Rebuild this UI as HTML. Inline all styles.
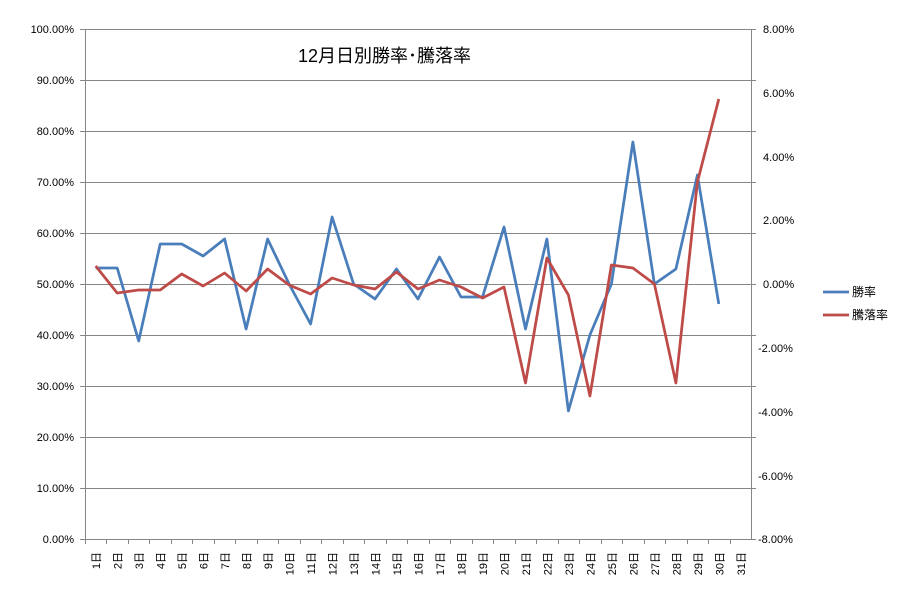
<!DOCTYPE html>
<html><head><meta charset="utf-8"><style>
html,body{margin:0;padding:0;background:#fff;}
svg{display:block;font-family:"Liberation Sans","Noto Sans CJK JP",sans-serif;}
</style></head><body>
<svg width="913" height="606" viewBox="0 0 913 606" xmlns="http://www.w3.org/2000/svg">
<rect width="913" height="606" fill="#fff"/>
<g stroke="#868686" stroke-width="1" shape-rendering="crispEdges">
<line x1="80" y1="29.5" x2="756" y2="29.5"/>
<line x1="80" y1="80.5" x2="756" y2="80.5"/>
<line x1="80" y1="131.5" x2="756" y2="131.5"/>
<line x1="80" y1="182.5" x2="756" y2="182.5"/>
<line x1="80" y1="233.5" x2="756" y2="233.5"/>
<line x1="80" y1="284.5" x2="756" y2="284.5"/>
<line x1="80" y1="335.5" x2="756" y2="335.5"/>
<line x1="80" y1="386.5" x2="756" y2="386.5"/>
<line x1="80" y1="437.5" x2="756" y2="437.5"/>
<line x1="80" y1="488.5" x2="756" y2="488.5"/>
<line x1="80" y1="539.5" x2="756" y2="539.5"/>
<line x1="85.5" y1="29" x2="85.5" y2="544"/>
<line x1="751.5" y1="29" x2="751.5" y2="539"/>
<line x1="106.5" y1="539" x2="106.5" y2="544"/><line x1="128.5" y1="539" x2="128.5" y2="544"/><line x1="149.5" y1="539" x2="149.5" y2="544"/><line x1="171.5" y1="539" x2="171.5" y2="544"/><line x1="192.5" y1="539" x2="192.5" y2="544"/><line x1="214.5" y1="539" x2="214.5" y2="544"/><line x1="235.5" y1="539" x2="235.5" y2="544"/><line x1="257.5" y1="539" x2="257.5" y2="544"/><line x1="278.5" y1="539" x2="278.5" y2="544"/><line x1="300.5" y1="539" x2="300.5" y2="544"/><line x1="321.5" y1="539" x2="321.5" y2="544"/><line x1="343.5" y1="539" x2="343.5" y2="544"/><line x1="364.5" y1="539" x2="364.5" y2="544"/><line x1="386.5" y1="539" x2="386.5" y2="544"/><line x1="407.5" y1="539" x2="407.5" y2="544"/><line x1="429.5" y1="539" x2="429.5" y2="544"/><line x1="450.5" y1="539" x2="450.5" y2="544"/><line x1="472.5" y1="539" x2="472.5" y2="544"/><line x1="493.5" y1="539" x2="493.5" y2="544"/><line x1="515.5" y1="539" x2="515.5" y2="544"/><line x1="536.5" y1="539" x2="536.5" y2="544"/><line x1="558.5" y1="539" x2="558.5" y2="544"/><line x1="579.5" y1="539" x2="579.5" y2="544"/><line x1="601.5" y1="539" x2="601.5" y2="544"/><line x1="622.5" y1="539" x2="622.5" y2="544"/><line x1="644.5" y1="539" x2="644.5" y2="544"/><line x1="665.5" y1="539" x2="665.5" y2="544"/><line x1="687.5" y1="539" x2="687.5" y2="544"/><line x1="708.5" y1="539" x2="708.5" y2="544"/><line x1="730.5" y1="539" x2="730.5" y2="544"/>
</g>
<g font-size="11" fill="#000" text-anchor="end">
<text x="74" y="33">100.00%</text><text x="74" y="84">90.00%</text><text x="74" y="135">80.00%</text><text x="74" y="186">70.00%</text><text x="74" y="237">60.00%</text><text x="74" y="288">50.00%</text><text x="74" y="339">40.00%</text><text x="74" y="390">30.00%</text><text x="74" y="441">20.00%</text><text x="74" y="492">10.00%</text><text x="74" y="543">0.00%</text>
</g>
<g font-size="11" fill="#000">
<text x="763" y="33">8.00%</text><text x="763" y="97">6.00%</text><text x="763" y="161">4.00%</text><text x="763" y="224">2.00%</text><text x="763" y="288">0.00%</text><text x="758" y="352">-2.00%</text><text x="758" y="416">-4.00%</text><text x="758" y="480">-6.00%</text><text x="758" y="543">-8.00%</text>
</g>
<g font-size="11" fill="#000" text-anchor="end">
<text transform="translate(100,552) rotate(-90)">1日</text><text transform="translate(121.5,552) rotate(-90)">2日</text><text transform="translate(143,552) rotate(-90)">3日</text><text transform="translate(164.5,552) rotate(-90)">4日</text><text transform="translate(186,552) rotate(-90)">5日</text><text transform="translate(207.5,552) rotate(-90)">6日</text><text transform="translate(229,552) rotate(-90)">7日</text><text transform="translate(250.5,552) rotate(-90)">8日</text><text transform="translate(272,552) rotate(-90)">9日</text><text transform="translate(293.5,552) rotate(-90)">10日</text><text transform="translate(315,552) rotate(-90)">11日</text><text transform="translate(336.5,552) rotate(-90)">12日</text><text transform="translate(358,552) rotate(-90)">13日</text><text transform="translate(379.5,552) rotate(-90)">14日</text><text transform="translate(401,552) rotate(-90)">15日</text><text transform="translate(422.5,552) rotate(-90)">16日</text><text transform="translate(444,552) rotate(-90)">17日</text><text transform="translate(465.5,552) rotate(-90)">18日</text><text transform="translate(487,552) rotate(-90)">19日</text><text transform="translate(508.5,552) rotate(-90)">20日</text><text transform="translate(530,552) rotate(-90)">21日</text><text transform="translate(551.5,552) rotate(-90)">22日</text><text transform="translate(573,552) rotate(-90)">23日</text><text transform="translate(594.5,552) rotate(-90)">24日</text><text transform="translate(616,552) rotate(-90)">25日</text><text transform="translate(637.5,552) rotate(-90)">26日</text><text transform="translate(659,552) rotate(-90)">27日</text><text transform="translate(680.5,552) rotate(-90)">28日</text><text transform="translate(702,552) rotate(-90)">29日</text><text transform="translate(723.5,552) rotate(-90)">30日</text><text transform="translate(745,552) rotate(-90)">31日</text>
</g>
<polyline fill="none" stroke="#4a7ebb" stroke-width="2.75" stroke-linejoin="round" points="95.7,268 117.2,268 138.7,341 160.2,244 181.7,244 203.1,256 224.6,239 246.1,329 267.6,239 289.1,284 310.6,324 332.1,217 353.6,284 375,299 396.5,269 418,299 439.5,257 461,297 482.5,297 504,227 525.5,329 546.9,239 568.4,411 589.9,335 611.4,284 632.9,142 654.4,284 675.9,269 697.4,175 718.8,304"/>
<polyline fill="none" stroke="#be4b48" stroke-width="2.75" stroke-linejoin="round" points="95.7,266 117.2,293 138.7,290 160.2,290 181.7,274 203.1,286 224.6,273 246.1,291 267.6,269 289.1,285 310.6,294 332.1,278 353.6,285 375,289 396.5,272 418,289 439.5,280 461,287 482.5,298 504,287 525.5,383 546.9,258 568.4,295 589.9,396 611.4,265 632.9,268 654.4,284 675.9,383 697.4,182 718.8,99"/>
<text x="298" y="62" font-size="18" fill="#000">12月日別勝率･騰落率</text>
<line x1="823" y1="292" x2="849" y2="292" stroke="#4a7ebb" stroke-width="2.75"/>
<text x="852" y="296" font-size="12" fill="#000">勝率</text>
<line x1="823" y1="315" x2="849" y2="315" stroke="#be4b48" stroke-width="2.75"/>
<text x="852" y="319" font-size="12" fill="#000">騰落率</text>
</svg>
</body></html>
